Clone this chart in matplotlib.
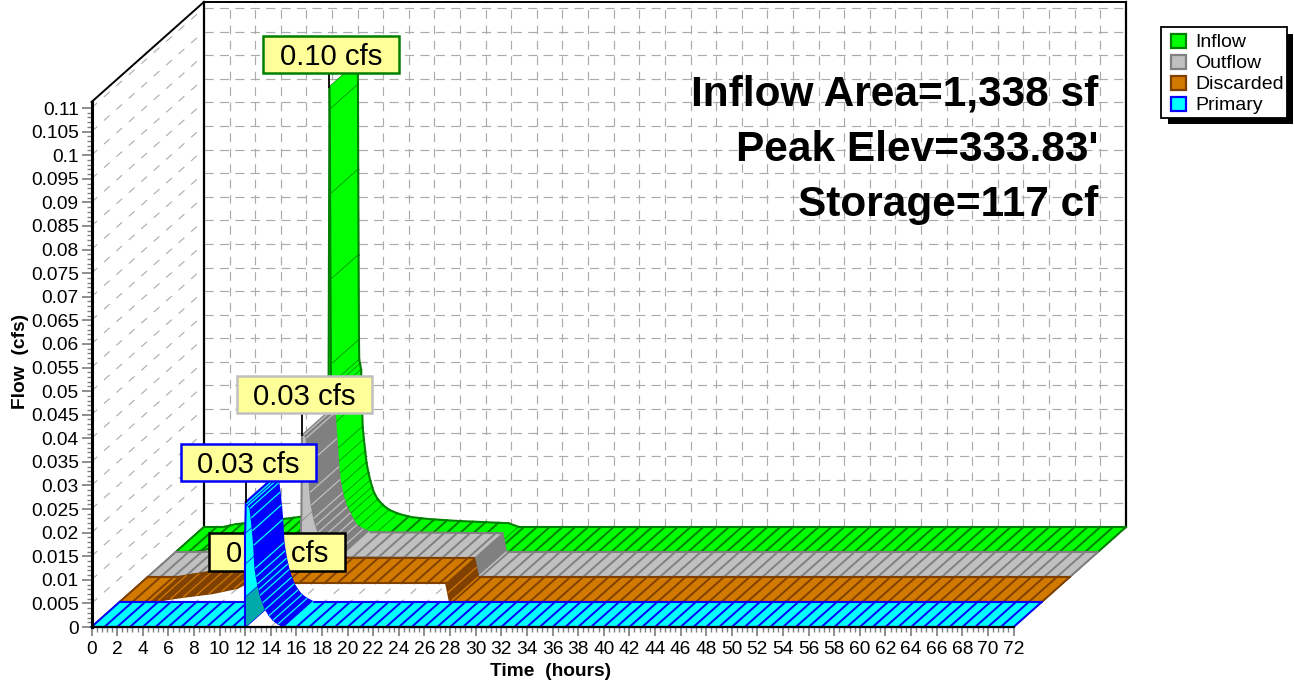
import numpy as np
import matplotlib
matplotlib.use("Agg")
import matplotlib.pyplot as plt
from matplotlib.patches import Polygon, Rectangle
from matplotlib.lines import Line2D
from matplotlib.transforms import IdentityTransform

plt.rcParams['font.family'] = ['Liberation Sans', 'DejaVu Sans']
plt.rcParams['lines.scale_dashes'] = False

W, H = 1294, 684
# ---------- data ----------
series_names = ['Inflow', 'Outflow', 'Discarded', 'Primary']
peak_labels = ['0.10 cfs', '0.03 cfs', '0.01 cfs', '0.03 cfs']

inflow_t = [0, 1.5, 2.5, 5, 7.4, 10, 11.5, 11.9, 12.0, 12.03, 12.05, 12.08, 12.11, 12.13, 12.2, 12.28, 12.34, 12.4, 12.5, 12.6,
            12.7, 12.85, 13.0, 13.15, 13.3, 13.6, 14.0, 14.5, 15.2, 16.2, 17.5, 19.7, 23.8, 24.6, 72]
inflow_q = [0, 0, .0006, .0013, .0021, .0035, .006, .006, .0985, .0937, .0757, .0576, .0396, .0354, .0345, .0333, .027, .0212, .0185, .016,
            .0136, .0115, .0098, .0084, .0072, .0058, .0046, .0036, .0028, .0021, .0017, .0013, .0008, 0, 0]

outflow_t = [0, 2.4, 4.7, 7.3, 9.2, 9.9, 12.0, 12.0, 12.05, 12.25, 12.4, 12.55, 12.7, 12.8, 13.0, 13.15, 13.34, 13.6, 13.85, 14.1, 14.6, 15.1, 25.5, 25.8, 72]
outflow_q = [0, 0, .001, .0019, .003, .004, .004, .012, .03, .0302, .0295, .024, .018, .0153, .0125, .011, .0095, .0082, .0068, .0057, .0048, .0042, .004, 0, 0]

discarded_t = [0, 2.4, 3.5, 4.7, 7.3, 9.2, 9.9, 25.5, 25.65, 25.8, 72]
discarded_q = [0, 0, .0005, .001, .0019, .003, .004, .004, .002, 0, 0]

primary_t = [0, 12.0, 12.0, 12.0, 12.0, 12.05, 12.15, 12.25, 12.4, 12.5, 12.6, 12.7, 12.8, 12.9, 13.0, 13.1, 13.2, 13.4, 13.6, 13.9, 14.2, 14.6, 15.1, 72]
primary_q = [0, 0, .0065, .0135, .02, .0265, .0262, .0258, .0252, .0232, .0205, .0174, .0125, .0108, .0092, .008, .0068, .0052, .0038, .0025, .0015, .0007, 0, 0]

curves = [(inflow_t, inflow_q), (outflow_t, outflow_q), (discarded_t, discarded_q), (primary_t, primary_q)]
depths = [3, 2, 1, 0]
peak_points = [(12.0, .0985), (12.05, .03), (12.3, .004), (12.05, .0265)]

x_major = list(range(0, 73, 2))
y_major = [0, .005, .01, .015, .02, .025, .03, .035, .04, .045, .05, .055, .06, .065, .07, .075, .08, .085, .09, .095, .1, .105, .11]
y_tick_labels = ['0', '0.005', '0.01', '0.015', '0.02', '0.025', '0.03', '0.035', '0.04', '0.045', '0.05', '0.055', '0.06',
                 '0.065', '0.07', '0.075', '0.08', '0.085', '0.09', '0.095', '0.1', '0.105', '0.11']

info_lines = ['Inflow Area=1,338 sf', "Peak Elev=333.83'", 'Storage=117 cf']

# ---------- style ----------
face = ['#00FF00', '#C0C0C0', '#D27A00', '#00FFFF']
edge = ['#008000', '#808080', '#804000', '#0000FF']
box_edge = ['#008000', '#C0C0C0', '#000000', '#0000FF']
dense_spans = [[],
               [(12.05, 15.1), (25.5, 25.8)],
               [(2.4, 9.9), (25.5, 25.8)],
               [(12.05, 15.1)]]
face_override = {3: {2: '#00AAAA'}}
label_box = [(263, 36, 399, 73), (237, 376, 372, 413), (209, 533, 345, 571), (181, 444, 316, 481)]

AX_L, AX_R, AX_T, AX_B = 91.5, 1013.5, 102, 627
YMAX = (AX_B - AX_T) / 4718.0
DX = 28.1 / ((AX_R - AX_L) / 72.0)   # hours per depth layer
DY = 25.0 / 4718.0                   # cfs per depth layer
NLAY = 4

fig = plt.figure(figsize=(W / 100, H / 100), dpi=100, facecolor='white')
ax = fig.add_axes([AX_L / W, 1 - AX_B / H, (AX_R - AX_L) / W, (AX_B - AX_T) / H])
ax.set_xlim(0, 72)
ax.set_ylim(0, YMAX)
ax.patch.set_visible(False)


def P(t, q, d):
    return t + d * DX, q + d * DY


def ln(xs, ys, color='k', lw=1.0, z=1, **kw):
    ax.add_line(Line2D(xs, ys, color=color, lw=lw, zorder=z, clip_on=False, **kw))


# back wall grid
grid_c = '#ABABAB'
for t in x_major[1:-1]:
    a, b = P(t, 0, NLAY), P(t, YMAX, NLAY)
    ln([a[0], b[0]], [a[1], b[1]], grid_c, 0.85, 1, dashes=(6.2, 4.9))
for q in y_major[1:]:
    a, b = P(0, q, NLAY), P(72, q, NLAY)
    ln([a[0], b[0]], [a[1], b[1]], grid_c, 0.85, 1, dashes=(6.6, 4.5))
# left wall grid and floor grid
for q in y_major[1:]:
    a, b = P(0, q, 0), P(0, q, NLAY)
    ln([a[0], b[0]], [a[1], b[1]], grid_c, 0.8, 1, dashes=(5.5, 6.5))
for t in x_major[1:-1]:
    a, b = P(t, 0, 0), P(t, 0, NLAY)
    ln([a[0], b[0]], [a[1], b[1]], grid_c, 0.8, 1, dashes=(5.5, 6.5))

# box frame
c = [P(0, 0, NLAY), P(0, YMAX, NLAY), P(72, YMAX, NLAY), P(72, 0, NLAY)]
ln([c[0][0], c[1][0]], [c[0][1], c[1][1]], 'k', 1.6, 2)
ln([c[1][0], c[2][0]], [c[1][1], c[2][1]], 'k', 1.4, 2)
ln([c[2][0], c[3][0]], [c[2][1], c[3][1]], 'k', 1.6, 2)
ln([c[0][0], c[3][0]], [c[0][1], c[3][1]], 'k', 1.2, 2)
a = P(0, YMAX, 0)
ln([a[0], c[1][0]], [a[1], c[1][1]], 'k', 1.4, 2)
a = P(0, 0, 0)
ln([a[0], c[0][0]], [a[1], c[0][1]], 'k', 1.2, 2)
a = P(72, 0, 0)
ln([a[0], c[3][0]], [a[1], c[3][1]], 'k', 1.2, 2)


def in_dense(i, t0, t1):
    return any(t0 >= s - 1e-9 and t1 <= e + 1e-9 for s, e in dense_spans[i])


def ribbon(i, ts, qs, d, z0):
    z = z0
    step = 0.002
    streaks = []
    for k in range(len(ts) - 1):
        t0, t1, q0, q1 = ts[k], ts[k + 1], qs[k], qs[k + 1]
        dense = in_dense(i, t0, t1)
        col = edge[i] if dense else face[i]
        col = face_override.get(i, {}).get(k + 1, col) if t0 == t1 else col
        pts = [P(t0, q0, d), P(t1, q1, d), P(t1, q1, d + 1), P(t0, q0, d + 1)]
        ax.add_patch(Polygon(pts, closed=True, facecolor=col, edgecolor=col, lw=0.4, zorder=z, clip_on=False))
        z += step
        # outline along the curve, front and back
        for dd in (d, d + 1):
            a, b = P(t0, q0, dd), P(t1, q1, dd)
            ln([a[0], b[0]], [a[1], b[1]], edge[i], 1.5, z, solid_capstyle='round')
        z += step
        # hatching along the depth direction
        marks = [t1] if t1 - t0 < 1 else [h for h in range(int(np.ceil(t0)), int(t1) + 1)]
        for h in marks:
            qh = q1 if t1 == t0 else q0 + (q1 - q0) * (h - t0) / (t1 - t0)
            a, b = P(h, qh, d), P(h, qh, d + 1)
            if dense:
                streaks.append((a, b))
            else:
                ln([a[0], b[0]], [a[1], b[1]], edge[i], 1.4, z)
        z += step
    # light streaks lie on top of the dark, steep part of the ribbon
    for a, b in streaks:
        ln([a[0], b[0]], [a[1], b[1]], face[i], 0.9, z)
    return z + step


def label(i, z):
    l, t, r, b = label_box[i]
    pk = P(peak_points[i][0], peak_points[i][1], depths[i])
    px, py = ax.transData.transform(pk)
    if i != 2:
        ax.add_line(Line2D([px, px], [H - b, py], color='k', lw=1.3, zorder=z, transform=IdentityTransform(), clip_on=False))
    ax.add_patch(Rectangle((l, H - b), r - l, b - t, facecolor='#FFFF99', edgecolor=box_edge[i], lw=1.8,
                           transform=IdentityTransform(), zorder=z + 0.01, clip_on=False))
    ax.text((l + r) / 2, H - (t + b) / 2 - 2.5, peak_labels[i], transform=IdentityTransform(), fontsize=21.2,
            ha='center', va='center', color='k', zorder=z + 0.02, clip_on=False)


z = 3
for i in range(4):
    z = ribbon(i, curves[i][0], curves[i][1], depths[i], z)
    label(i, z)
    z += 1

# info text
for s, y in zip(info_lines, [95, 150, 205]):
    ax.text(1098, H - y, s, transform=IdentityTransform(), fontsize=30.5, fontweight='bold',
            ha='right', va='center', color='k', zorder=20, clip_on=False)

# axes
for sp in ['top', 'right']:
    ax.spines[sp].set_visible(False)
ax.spines['left'].set_linewidth(2.2)
ax.spines['left'].set_zorder(30)
ax.spines['bottom'].set_linewidth(1.6)
ax.spines['bottom'].set_zorder(30)
ax.set_xticks(x_major)
ax.set_xticklabels([str(v) for v in x_major], fontsize=13.8)
ax.set_yticks(y_major)
ax.set_yticklabels(y_tick_labels, fontsize=13.8)
ax.set_xticks(np.arange(0, 72.01, 0.4), minor=True)
ax.set_yticks(np.arange(0, 0.1101, 0.001), minor=True)
ax.tick_params(axis='x', which='major', length=6.5, width=1.1, pad=3.5, color='#707070')
ax.tick_params(axis='x', which='minor', length=3.5, width=1.0, color='#808080')
ax.tick_params(axis='y', which='major', length=7, width=1.1, pad=2.2, color='#707070')
ax.tick_params(axis='y', which='minor', length=3.5, width=1.0, color='#808080')
fig.text(551 / W, 1 - 672 / H, 'Time  (hours)', fontsize=13.8, fontweight='bold', ha='center', va='center')
fig.text(20.5 / W, 1 - 361 / H, 'Flow  (cfs)', fontsize=13.8, fontweight='bold', ha='center', va='center', rotation=90)

# legend
T = IdentityTransform()
ax.add_patch(Rectangle((1168, H - 124), 125, 90, facecolor='k', edgecolor='k', lw=0, transform=T, zorder=40, clip_on=False))
ax.add_patch(Rectangle((1161, H - 118), 126, 91, facecolor='w', edgecolor='k', lw=1.3, transform=T, zorder=41, clip_on=False))
for n, fc, ec, y in zip(series_names, face, edge, [41, 62, 83, 104]):
    ax.add_patch(Rectangle((1171, H - y - 7), 15, 14, facecolor=fc, edgecolor=ec, lw=1.6, transform=T, zorder=42, clip_on=False))
    ax.text(1195, H - y - 1.5, n, transform=T, fontsize=14, ha='left', va='center', color='k', zorder=42, clip_on=False)

fig.savefig('out.png', dpi=100)
